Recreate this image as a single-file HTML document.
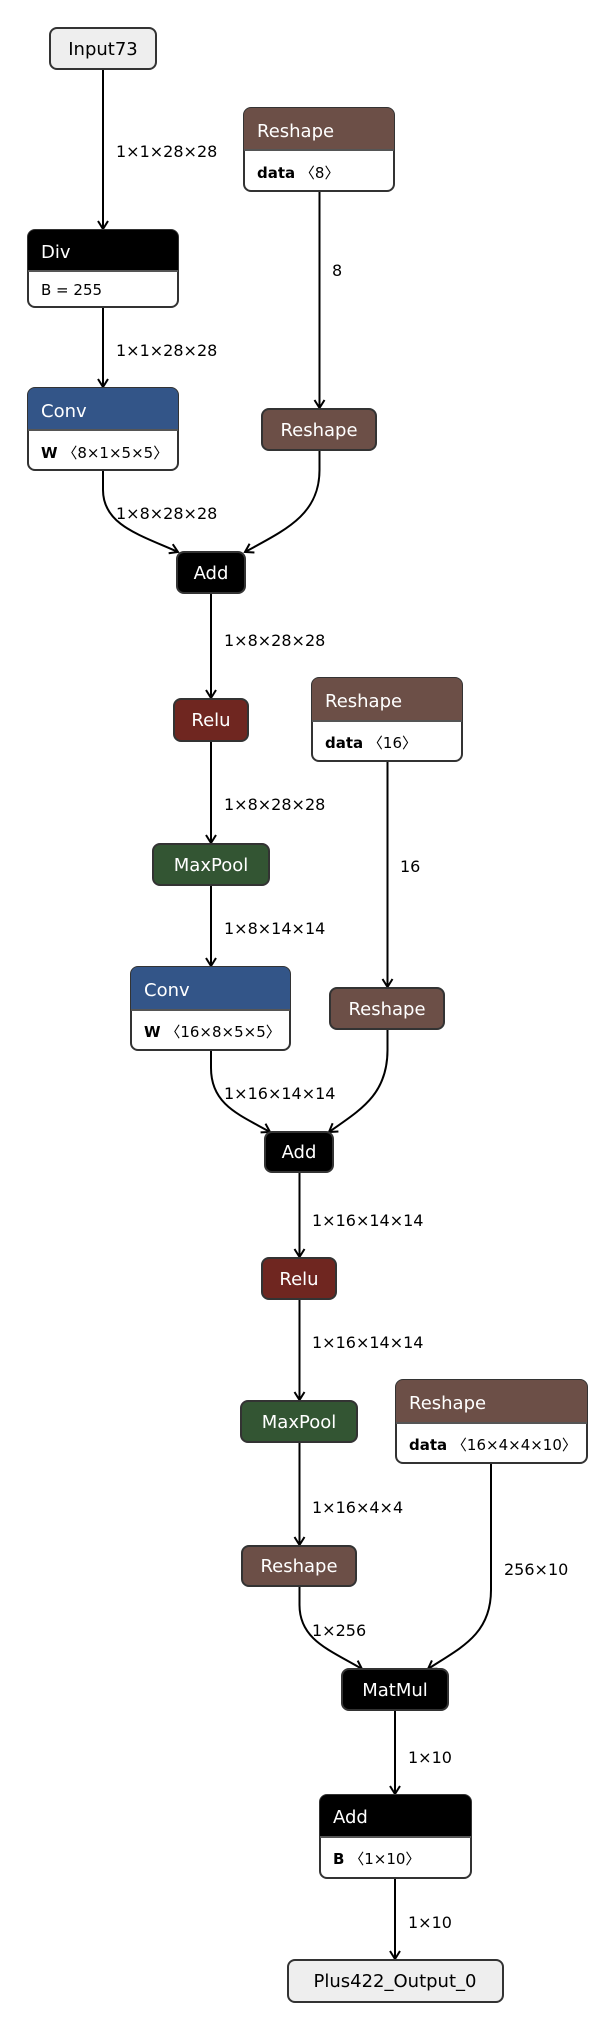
<!DOCTYPE html>
<html><head><meta charset="utf-8"><style>
html,body{margin:0;padding:0;background:#fff;}
svg{display:block;font-family:"DejaVu Sans","Liberation Sans",sans-serif;}
.t{fill:#fff;font-size:18px;}
.lbl{font-size:16px;fill:#000;}
.a{font-size:15px;fill:#000;}
.e{fill:none;stroke:#000;stroke-width:2;}
.b{stroke:#333;stroke-width:2;}
</style></head><body>
<svg width="616" height="2030" viewBox="0 0 616 2030" xmlns="http://www.w3.org/2000/svg">
<defs>
<marker id="ar" markerWidth="14" markerHeight="14" refX="10" refY="6" orient="auto" markerUnits="userSpaceOnUse">
<path d="M2,1 L10,6 L2,11" fill="none" stroke="#000" stroke-width="2"/>
</marker>
</defs>

<!-- edges -->
<path class="e" d="M103 69 V229" marker-end="url(#ar)"/>
<path class="e" d="M103 306 V387" marker-end="url(#ar)"/>
<path class="e" d="M319.5 191 V408" marker-end="url(#ar)"/>
<path class="e" d="M103 470 V490 C103 525 140 535 178 552" marker-end="url(#ar)"/>
<path class="e" d="M319.5 450 V470 C319.5 515 285 530 245 552" marker-end="url(#ar)"/>
<path class="e" d="M211 593 V698" marker-end="url(#ar)"/>
<path class="e" d="M211 741 V843" marker-end="url(#ar)"/>
<path class="e" d="M211 885 V966" marker-end="url(#ar)"/>
<path class="e" d="M387.5 761 V987" marker-end="url(#ar)"/>
<path class="e" d="M211 1050 V1068 C211 1105 240 1115 270 1132" marker-end="url(#ar)"/>
<path class="e" d="M387.5 1029 V1050 C387.5 1095 360 1110 329 1132" marker-end="url(#ar)"/>
<path class="e" d="M299.5 1172 V1257" marker-end="url(#ar)"/>
<path class="e" d="M299.5 1299 V1400" marker-end="url(#ar)"/>
<path class="e" d="M299.5 1442 V1545" marker-end="url(#ar)"/>
<path class="e" d="M299.5 1586 V1605 C299.5 1640 330 1650 362 1669" marker-end="url(#ar)"/>
<path class="e" d="M491 1463 V1590 C491 1635 460 1648 428 1669" marker-end="url(#ar)"/>
<path class="e" d="M395 1710 V1794" marker-end="url(#ar)"/>
<path class="e" d="M395 1878 V1959" marker-end="url(#ar)"/>

<!-- edge labels -->
<text class="lbl" x="116" y="157">1×1×28×28</text>
<text class="lbl" x="116" y="356">1×1×28×28</text>
<text class="lbl" x="332" y="276">8</text>
<text class="lbl" x="116" y="519">1×8×28×28</text>
<text class="lbl" x="224" y="646">1×8×28×28</text>
<text class="lbl" x="224" y="810">1×8×28×28</text>
<text class="lbl" x="224" y="934">1×8×14×14</text>
<text class="lbl" x="400" y="872">16</text>
<text class="lbl" x="224" y="1099">1×16×14×14</text>
<text class="lbl" x="312" y="1226">1×16×14×14</text>
<text class="lbl" x="312" y="1348">1×16×14×14</text>
<text class="lbl" x="312" y="1513">1×16×4×4</text>
<text class="lbl" x="504" y="1575">256×10</text>
<text class="lbl" x="312" y="1636">1×256</text>
<text class="lbl" x="408" y="1763">1×10</text>
<text class="lbl" x="408" y="1928">1×10</text>

<!-- Input73 -->
<rect class="b" x="50" y="28" width="106" height="41" rx="7" fill="#eeeeee"/>
<text x="103" y="55" font-size="18" text-anchor="middle">Input73</text>

<!-- Div -->
<rect class="b" x="28" y="230" width="150" height="77" rx="7" fill="#fff"/>
<path d="M28 270 V237 a7 7 0 0 1 7 -7 H171 a7 7 0 0 1 7 7 V270 Z" fill="#000"/>
<line x1="28" y1="271" x2="178" y2="271" stroke="#555" stroke-width="2"/>
<text class="t" x="41" y="258">Div</text>
<text class="a" x="41" y="295">B = 255</text>

<!-- Reshape 1 -->
<rect class="b" x="244" y="108" width="150" height="83" rx="7" fill="#fff"/>
<path d="M244 149 V115 a7 7 0 0 1 7 -7 H387 a7 7 0 0 1 7 7 V149 Z" fill="#6c4f47"/>
<line x1="244" y1="150" x2="394" y2="150" stroke="#555" stroke-width="2"/>
<text class="t" x="257" y="137">Reshape</text>
<text class="a" x="257" y="178"><tspan font-weight="bold">data</tspan> 〈8〉</text>

<!-- Conv1 -->
<rect class="b" x="28" y="388" width="150" height="82" rx="7" fill="#fff"/>
<path d="M28 429 V395 a7 7 0 0 1 7 -7 H171 a7 7 0 0 1 7 7 V429 Z" fill="#335588"/>
<line x1="28" y1="430" x2="178" y2="430" stroke="#555" stroke-width="2"/>
<text class="t" x="41" y="417">Conv</text>
<text class="a" x="41" y="458"><tspan font-weight="bold">W</tspan> 〈8×1×5×5〉</text>

<!-- Reshape 2 -->
<rect class="b" x="262" y="409" width="114" height="41" rx="7" fill="#6c4f47"/>
<text class="t" x="319" y="436" text-anchor="middle">Reshape</text>

<!-- Add1 -->
<rect class="b" x="177" y="552" width="68" height="41" rx="7" fill="#000"/>
<text class="t" x="211" y="579" text-anchor="middle">Add</text>

<!-- Relu1 -->
<rect class="b" x="174" y="699" width="74" height="42" rx="7" fill="#6f2620"/>
<text class="t" x="211" y="726" text-anchor="middle">Relu</text>

<!-- Reshape3 -->
<rect class="b" x="312" y="678" width="150" height="83" rx="7" fill="#fff"/>
<path d="M312 720 V685 a7 7 0 0 1 7 -7 H455 a7 7 0 0 1 7 7 V720 Z" fill="#6c4f47"/>
<line x1="312" y1="721" x2="462" y2="721" stroke="#555" stroke-width="2"/>
<text class="t" x="325" y="707">Reshape</text>
<text class="a" x="325" y="748"><tspan font-weight="bold">data</tspan> 〈16〉</text>

<!-- MaxPool1 -->
<rect class="b" x="153" y="844" width="116" height="41" rx="7" fill="#335533"/>
<text class="t" x="211" y="871" text-anchor="middle">MaxPool</text>

<!-- Conv2 -->
<rect class="b" x="131" y="967" width="159" height="83" rx="7" fill="#fff"/>
<path d="M131 1009 V974 a7 7 0 0 1 7 -7 H283 a7 7 0 0 1 7 7 V1009 Z" fill="#335588"/>
<line x1="131" y1="1010" x2="290" y2="1010" stroke="#555" stroke-width="2"/>
<text class="t" x="144" y="996">Conv</text>
<text class="a" x="144" y="1037"><tspan font-weight="bold">W</tspan> 〈16×8×5×5〉</text>

<!-- Reshape4 -->
<rect class="b" x="330" y="988" width="114" height="41" rx="7" fill="#6c4f47"/>
<text class="t" x="387" y="1015" text-anchor="middle">Reshape</text>

<!-- Add2 -->
<rect class="b" x="265" y="1132" width="68" height="40" rx="7" fill="#000"/>
<text class="t" x="299" y="1158" text-anchor="middle">Add</text>

<!-- Relu2 -->
<rect class="b" x="262" y="1258" width="74" height="41" rx="7" fill="#6f2620"/>
<text class="t" x="299" y="1285" text-anchor="middle">Relu</text>

<!-- Reshape5 -->
<rect class="b" x="396" y="1380" width="191" height="83" rx="7" fill="#fff"/>
<path d="M396 1422 V1387 a7 7 0 0 1 7 -7 H580 a7 7 0 0 1 7 7 V1422 Z" fill="#6c4f47"/>
<line x1="396" y1="1423" x2="587" y2="1423" stroke="#555" stroke-width="2"/>
<text class="t" x="409" y="1409">Reshape</text>
<text class="a" x="409" y="1450"><tspan font-weight="bold">data</tspan> 〈16×4×4×10〉</text>

<!-- MaxPool2 -->
<rect class="b" x="241" y="1401" width="116" height="41" rx="7" fill="#335533"/>
<text class="t" x="299" y="1428" text-anchor="middle">MaxPool</text>

<!-- Reshape6 -->
<rect class="b" x="242" y="1546" width="114" height="40" rx="7" fill="#6c4f47"/>
<text class="t" x="299" y="1572" text-anchor="middle">Reshape</text>

<!-- MatMul -->
<rect class="b" x="342" y="1669" width="106" height="41" rx="7" fill="#000"/>
<text class="t" x="395" y="1696" text-anchor="middle">MatMul</text>

<!-- Add3 -->
<rect class="b" x="320" y="1795" width="151" height="83" rx="7" fill="#fff"/>
<path d="M320 1836 V1802 a7 7 0 0 1 7 -7 H464 a7 7 0 0 1 7 7 V1836 Z" fill="#000"/>
<line x1="320" y1="1837" x2="471" y2="1837" stroke="#555" stroke-width="2"/>
<text class="t" x="333" y="1823">Add</text>
<text class="a" x="333" y="1864"><tspan font-weight="bold">B</tspan> 〈1×10〉</text>

<!-- Output -->
<rect class="b" x="288" y="1960" width="215" height="42" rx="7" fill="#eeeeee"/>
<text x="395" y="1987" font-size="18" text-anchor="middle">Plus422_Output_0</text>
</svg>
</body></html>
